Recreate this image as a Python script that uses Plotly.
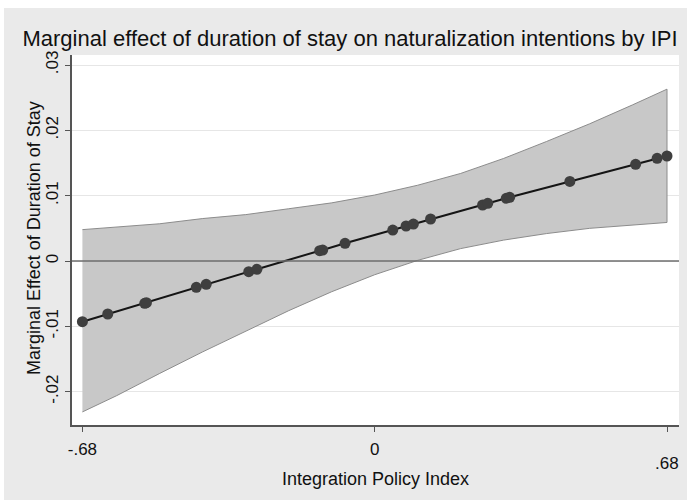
import plotly.graph_objects as go

# Integration Policy Index values at which the marginal effect is evaluated
ipi = [-0.680, -0.621, -0.535, -0.531, -0.415, -0.392, -0.293, -0.274,
       -0.128, -0.121, -0.069, 0.042, 0.073, 0.090, 0.130, 0.251,
       0.263, 0.306, 0.314, 0.454, 0.607, 0.657, 0.680]
# Marginal effect of duration of stay at each IPI value
effect = [-0.00929, -0.00811, -0.00647, -0.00638, -0.00402, -0.00357, -0.00163, -0.00127,
          0.00158, 0.00168, 0.00271, 0.00474, 0.00536, 0.00566, 0.00643, 0.00857,
          0.00883, 0.00959, 0.00975, 0.01218, 0.01480, 0.01571, 0.01607]

# 95% confidence band
band_x = [-0.68, -0.60, -0.50, -0.40, -0.30, -0.20, -0.10, 0.00,
          0.10, 0.20, 0.30, 0.40, 0.50, 0.60, 0.68]
band_upper = [0.0048, 0.0052, 0.0057, 0.0065, 0.0071, 0.0080, 0.0089, 0.0101,
              0.0116, 0.0134, 0.0157, 0.0183, 0.0210, 0.0239, 0.0263]
band_lower = [-0.0231, -0.0206, -0.0172, -0.0139, -0.0107, -0.0076, -0.0047, -0.0021,
              0.0001, 0.0019, 0.0032, 0.0042, 0.0050, 0.0055, 0.0059]

y_ticks = [-0.02, -0.01, 0, 0.01, 0.02, 0.03]
y_tick_text = ["-.02", "-.01", "0", ".01", ".02", ".03"]
x_ticks = [-0.68, 0, 0.68]
x_tick_text = ["-.68", "0", ""]
x_alt_label = ".68"   # staggered label for the last tick

FONT = "Liberation Sans, Arial, sans-serif"
TXT = "#111111"
W, H = 687, 504
L, R, T, B = 72, 8, 55, 79
pw, ph = W - L - R, H - T - B


def px_x(p):
    return (p - L) / pw


def px_y(p):
    return (H - B - p) / ph


fig = go.Figure()

fig.add_trace(go.Scatter(
    x=band_x + band_x[::-1],
    y=band_upper + band_lower[::-1],
    fill="toself",
    fillcolor="#c8c8c8",
    line=dict(color="#8c8c8c", width=1),
    mode="lines",
    hoverinfo="skip",
    showlegend=False,
))

fig.add_trace(go.Scatter(
    x=ipi, y=effect,
    mode="lines+markers",
    line=dict(color="#151515", width=2),
    marker=dict(color="#3f3f3f", size=11, line=dict(width=0)),
    showlegend=False,
))

# zero reference line
fig.add_shape(type="line", xref="paper", yref="y", x0=0, x1=1, y0=0, y1=0,
              line=dict(color="#6e6e6e", width=1.5), layer="above")

# white frame strips around the grey outer background
for x0, x1, y0, y1 in [(0, W, 0, 8), (0, 4, 0, H), (0, W, H - 4, H)]:
    fig.add_shape(type="rect", xref="paper", yref="paper",
                  x0=px_x(x0), x1=px_x(x1), y0=px_y(y1), y1=px_y(y0),
                  fillcolor="white", line=dict(width=0), layer="below")

# staggered tick label at the right end of the x axis
fig.add_annotation(text=x_alt_label, xref="x", x=x_ticks[-1], yref="paper", y=px_y(463),
                   xanchor="center", yanchor="middle", showarrow=False,
                   font=dict(size=17, family=FONT, color=TXT))

# y axis title
fig.add_annotation(text="Marginal Effect of Duration of Stay", textangle=-90,
                   xref="paper", x=px_x(34), yref="paper", y=px_y(238),
                   xanchor="center", yanchor="middle", showarrow=False,
                   font=dict(size=18, family=FONT, color=TXT))

fig.update_layout(
    width=W, height=H,
    margin=dict(l=L, r=R, t=T, b=B, pad=0),
    paper_bgcolor="#eaeaea",
    plot_bgcolor="white",
    font=dict(family=FONT, color=TXT),
    title=dict(
        text="Marginal effect of duration of stay on naturalization intentions by IPI",
        font=dict(size=22, family=FONT, color=TXT),
        xref="container", yref="container",
        x=350 / W, y=1 - 38 / H, xanchor="center", yanchor="middle",
    ),
    xaxis=dict(
        range=[-0.7042, 0.7079],
        tickvals=x_ticks, ticktext=x_tick_text,
        ticks="outside", ticklen=5, tickcolor="#555555", tickwidth=1,
        tickfont=dict(size=17),
        ticklabelstandoff=3,
        showgrid=False, zeroline=False,
        showline=True, linecolor="#555555", linewidth=1.5,
        title=dict(text="Integration Policy Index", font=dict(size=18), standoff=14),
    ),
    yaxis=dict(
        range=[-0.0251, 0.03153],
        tickvals=y_ticks, ticktext=y_tick_text,
        tickangle=-90,
        ticks="outside", ticklen=5, tickcolor="#555555", tickwidth=1,
        tickfont=dict(size=17),
        ticklabelstandoff=0,
        showgrid=True, gridcolor="#e6e6e6", gridwidth=1,
        zeroline=False,
        showline=True, linecolor="#555555", linewidth=1.5,
    ),
)

fig.write_html("out.html", config={"displayModeBar": False})
